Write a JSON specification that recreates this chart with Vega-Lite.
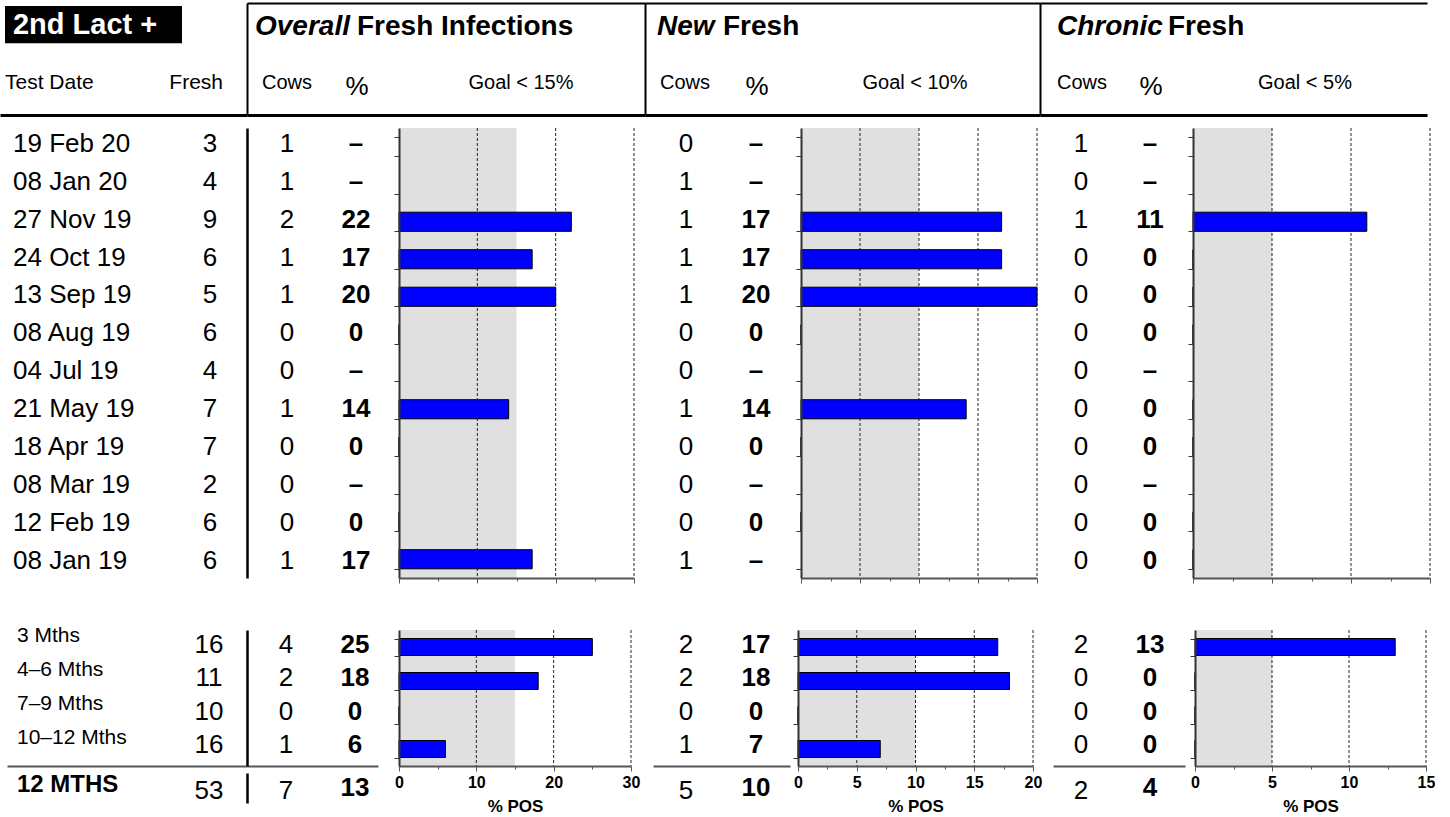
{
"$schema": "https://vega.github.io/schema/vega-lite/v6.json",
"padding": {"left": 0, "top": 3, "right": 0, "bottom": 0},
"background": "white",
"spacing": 0,
"config": {"view": {"stroke": null}, "font": "Liberation Sans", "text": {"font": "Liberation Sans", "color": "black", "fontSize": 26}, "axis": {"labelFont": "Liberation Sans", "titleFont": "Liberation Sans"}},
"datasets": {
"top": [
{"date":"19 Feb 20","fresh":3,"oCows":1,"oPct":null,"nCows":0,"nPct":null,"cCows":1,"cPct":null},
{"date":"08 Jan 20","fresh":4,"oCows":1,"oPct":null,"nCows":1,"nPct":null,"cCows":0,"cPct":null},
{"date":"27 Nov 19","fresh":9,"oCows":2,"oPct":22,"nCows":1,"nPct":17,"cCows":1,"cPct":11},
{"date":"24 Oct 19","fresh":6,"oCows":1,"oPct":17,"nCows":1,"nPct":17,"cCows":0,"cPct":0},
{"date":"13 Sep 19","fresh":5,"oCows":1,"oPct":20,"nCows":1,"nPct":20,"cCows":0,"cPct":0},
{"date":"08 Aug 19","fresh":6,"oCows":0,"oPct":0,"nCows":0,"nPct":0,"cCows":0,"cPct":0},
{"date":"04 Jul 19","fresh":4,"oCows":0,"oPct":null,"nCows":0,"nPct":null,"cCows":0,"cPct":null},
{"date":"21 May 19","fresh":7,"oCows":1,"oPct":14,"nCows":1,"nPct":14,"cCows":0,"cPct":0},
{"date":"18 Apr 19","fresh":7,"oCows":0,"oPct":0,"nCows":0,"nPct":0,"cCows":0,"cPct":0},
{"date":"08 Mar 19","fresh":2,"oCows":0,"oPct":null,"nCows":0,"nPct":null,"cCows":0,"cPct":null},
{"date":"12 Feb 19","fresh":6,"oCows":0,"oPct":0,"nCows":0,"nPct":0,"cCows":0,"cPct":0},
{"date":"08 Jan 19","fresh":6,"oCows":1,"oPct":17,"nCows":1,"nPct":null,"cCows":0,"cPct":0}
],
"bottom": [
{"period":"3 Mths","fresh":16,"oCows":4,"oPct":25,"nCows":2,"nPct":17,"cCows":2,"cPct":13},
{"period":"4–6 Mths","fresh":11,"oCows":2,"oPct":18,"nCows":2,"nPct":18,"cCows":0,"cPct":0},
{"period":"7–9 Mths","fresh":10,"oCows":0,"oPct":0,"nCows":0,"nPct":0,"cCows":0,"cPct":0},
{"period":"10–12 Mths","fresh":16,"oCows":1,"oPct":6,"nCows":1,"nPct":7,"cCows":0,"cPct":0}
],
"total": [
{"period":"12 MTHS","fresh":53,"oCows":7,"oPct":13,"nCows":5,"nPct":10,"cCows":2,"cPct":4}
]
},
"vconcat": [
{"hconcat": [
 {"width": 247, "height": 112,
  "resolve": {"scale": {"x": "independent", "y": "independent"}, "axis": {"x": "independent", "y": "independent"}},
  "layer": [
   {"data": {"values": [{"lab": "2nd Lact +"}]}, "mark": {"type": "rect", "color": "black"},
    "encoding": {"x": {"field": "lab", "type": "nominal", "scale": {"type": "band", "paddingInner": 0, "paddingOuter": 0.1977, "align": 0.0714}, "axis": null},
                 "y": {"field": "lab", "type": "nominal", "scale": {"type": "band", "paddingInner": 0, "paddingOuter": 1.0135, "align": 0.04}, "axis": null}}},
   {"data": {"values": [{"lab": "2nd Lact +"}]}, "mark": {"type": "text", "color": "white", "fontWeight": "bold", "fontSize": 29, "align": "left", "baseline": "middle"},
    "encoding": {"x": {"field": "lab", "type": "nominal", "bandPosition": 0.045, "scale": {"type": "band", "paddingInner": 0, "paddingOuter": 0.1977, "align": 0.0714}, "axis": null},
                 "y": {"field": "lab", "type": "nominal", "scale": {"type": "band", "paddingInner": 0, "paddingOuter": 1.0135, "align": 0.04}, "axis": null},
                 "text": {"field": "lab"}}},
   {"data": {"values": [{"t": "Test Date"}]}, "mark": {"type": "text", "fontSize": 21, "align": "left", "baseline": "alphabetic"},
    "encoding": {"x": {"field": "t", "type": "nominal", "scale": {"type": "point", "align": 0.0202}, "axis": {"orient": "bottom", "domain": true, "domainColor": "black", "domainWidth": 3, "labels": false, "ticks": false, "title": null, "grid": false}},
                 "y": {"datum": "sub", "type": "nominal", "scale": {"type": "point", "domain": ["title", "sub"], "padding": 0.537, "align": 0.552}, "axis": null},
                 "text": {"field": "t"}}},
   {"data": {"values": [{"t": "Fresh"}]}, "mark": {"type": "text", "fontSize": 21, "align": "right", "baseline": "alphabetic"},
    "encoding": {"x": {"field": "t", "type": "nominal", "scale": {"type": "point", "align": 0.903}, "axis": null},
                 "y": {"datum": "sub", "type": "nominal", "scale": {"type": "point", "domain": ["title", "sub"], "padding": 0.537, "align": 0.552}, "axis": null},
                 "text": {"field": "t"}}}
  ]},
 {"width": 398, "height": 112,
  "resolve": {"scale": {"x": "independent"}, "axis": {"x": "independent", "y": "independent"}},
  "layer": [
   {"data": {"values": [{"t": "Overall"}]}, "mark": {"type": "text", "fontSize": 28, "fontWeight": "bold", "fontStyle": "italic", "align": "left", "baseline": "alphabetic"},
    "encoding": {"x": {"field": "t", "type": "nominal", "scale": {"type": "point", "align": 0.0201}, "axis": {"orient": "top", "domain": true, "domainColor": "black", "domainWidth": 2, "labels": false, "ticks": false, "title": null, "grid": false}},
                 "y": {"datum": "title", "type": "nominal", "scale": {"type": "point", "domain": ["title", "sub"], "padding": 0.537, "align": 0.552}, "axis": {"orient": "left", "domain": true, "domainColor": "black", "domainWidth": 2, "labels": false, "ticks": false, "title": null, "grid": false}},
                 "text": {"field": "t"}}},
   {"data": {"values": [{"t": "Fresh Infections"}]}, "mark": {"type": "text", "fontSize": 28, "fontWeight": "bold", "align": "left", "baseline": "alphabetic"},
    "encoding": {"x": {"field": "t", "type": "nominal", "scale": {"type": "point", "align": 0.2764}, "axis": null},
                 "y": {"datum": "title", "type": "nominal", "scale": {"type": "point", "domain": ["title", "sub"], "padding": 0.537, "align": 0.552}, "axis": null},
                 "text": {"field": "t"}}},
   {"data": {"values": [{"t": "Cows"}]}, "mark": {"type": "text", "fontSize": 20, "baseline": "alphabetic"},
    "encoding": {"x": {"field": "t", "type": "nominal", "scale": {"type": "point", "align": 0.1005}, "axis": {"orient": "bottom", "domain": true, "domainColor": "black", "domainWidth": 3, "labels": false, "ticks": false, "title": null, "grid": false}},
                 "y": {"datum": "sub", "type": "nominal", "scale": {"type": "point", "domain": ["title", "sub"], "padding": 0.537, "align": 0.552}, "axis": null},
                 "text": {"field": "t"}}},
   {"data": {"values": [{"t": "%"}]}, "mark": {"type": "text", "fontSize": 26, "baseline": "alphabetic", "dy": 6},
    "encoding": {"x": {"field": "t", "type": "nominal", "scale": {"type": "point", "align": 0.2764}, "axis": null},
                 "y": {"datum": "sub", "type": "nominal", "scale": {"type": "point", "domain": ["title", "sub"], "padding": 0.537, "align": 0.552}, "axis": null},
                 "text": {"field": "t"}}},
   {"data": {"values": [{"t": "Goal < 15%"}]}, "mark": {"type": "text", "fontSize": 20, "baseline": "alphabetic"},
    "encoding": {"x": {"field": "t", "type": "nominal", "scale": {"type": "point", "align": 0.6884}, "axis": null},
                 "y": {"datum": "sub", "type": "nominal", "scale": {"type": "point", "domain": ["title", "sub"], "padding": 0.537, "align": 0.552}, "axis": null},
                 "text": {"field": "t"}}}
  ]},
 {"width": 395, "height": 112,
  "resolve": {"scale": {"x": "independent"}, "axis": {"x": "independent", "y": "independent"}},
  "layer": [
   {"data": {"values": [{"t": "New"}]}, "mark": {"type": "text", "fontSize": 28, "fontWeight": "bold", "fontStyle": "italic", "align": "left", "baseline": "alphabetic"},
    "encoding": {"x": {"field": "t", "type": "nominal", "scale": {"type": "point", "align": 0.0304}, "axis": {"orient": "top", "domain": true, "domainColor": "black", "domainWidth": 2, "labels": false, "ticks": false, "title": null, "grid": false}},
                 "y": {"datum": "title", "type": "nominal", "scale": {"type": "point", "domain": ["title", "sub"], "padding": 0.537, "align": 0.552}, "axis": {"orient": "left", "domain": true, "domainColor": "black", "domainWidth": 2, "labels": false, "ticks": false, "title": null, "grid": false}},
                 "text": {"field": "t"}}},
   {"data": {"values": [{"t": "Fresh"}]}, "mark": {"type": "text", "fontSize": 28, "fontWeight": "bold", "align": "left", "baseline": "alphabetic"},
    "encoding": {"x": {"field": "t", "type": "nominal", "scale": {"type": "point", "align": 0.1975}, "axis": null},
                 "y": {"datum": "title", "type": "nominal", "scale": {"type": "point", "domain": ["title", "sub"], "padding": 0.537, "align": 0.552}, "axis": null},
                 "text": {"field": "t"}}},
   {"data": {"values": [{"t": "Cows"}]}, "mark": {"type": "text", "fontSize": 20, "baseline": "alphabetic"},
    "encoding": {"x": {"field": "t", "type": "nominal", "scale": {"type": "point", "align": 0.1013}, "axis": {"orient": "bottom", "domain": true, "domainColor": "black", "domainWidth": 3, "labels": false, "ticks": false, "title": null, "grid": false}},
                 "y": {"datum": "sub", "type": "nominal", "scale": {"type": "point", "domain": ["title", "sub"], "padding": 0.537, "align": 0.552}, "axis": null},
                 "text": {"field": "t"}}},
   {"data": {"values": [{"t": "%"}]}, "mark": {"type": "text", "fontSize": 26, "baseline": "alphabetic", "dy": 6},
    "encoding": {"x": {"field": "t", "type": "nominal", "scale": {"type": "point", "align": 0.2835}, "axis": null},
                 "y": {"datum": "sub", "type": "nominal", "scale": {"type": "point", "domain": ["title", "sub"], "padding": 0.537, "align": 0.552}, "axis": null},
                 "text": {"field": "t"}}},
   {"data": {"values": [{"t": "Goal < 10%"}]}, "mark": {"type": "text", "fontSize": 20, "baseline": "alphabetic"},
    "encoding": {"x": {"field": "t", "type": "nominal", "scale": {"type": "point", "align": 0.6835}, "axis": null},
                 "y": {"datum": "sub", "type": "nominal", "scale": {"type": "point", "domain": ["title", "sub"], "padding": 0.537, "align": 0.552}, "axis": null},
                 "text": {"field": "t"}}}
  ]},
 {"width": 387, "height": 112,
  "resolve": {"scale": {"x": "independent"}, "axis": {"x": "independent", "y": "independent"}},
  "layer": [
   {"data": {"values": [{"t": "Chronic"}]}, "mark": {"type": "text", "fontSize": 28, "fontWeight": "bold", "fontStyle": "italic", "align": "left", "baseline": "alphabetic"},
    "encoding": {"x": {"field": "t", "type": "nominal", "scale": {"type": "point", "align": 0.0439}, "axis": {"orient": "top", "domain": true, "domainColor": "black", "domainWidth": 2, "labels": false, "ticks": false, "title": null, "grid": false}},
                 "y": {"datum": "title", "type": "nominal", "scale": {"type": "point", "domain": ["title", "sub"], "padding": 0.537, "align": 0.552}, "axis": {"orient": "left", "domain": true, "domainColor": "black", "domainWidth": 2, "labels": false, "ticks": false, "title": null, "grid": false}},
                 "text": {"field": "t"}}},
   {"data": {"values": [{"t": "Fresh"}]}, "mark": {"type": "text", "fontSize": 28, "fontWeight": "bold", "align": "left", "baseline": "alphabetic"},
    "encoding": {"x": {"field": "t", "type": "nominal", "scale": {"type": "point", "align": 0.3307}, "axis": null},
                 "y": {"datum": "title", "type": "nominal", "scale": {"type": "point", "domain": ["title", "sub"], "padding": 0.537, "align": 0.552}, "axis": null},
                 "text": {"field": "t"}}},
   {"data": {"values": [{"t": "Cows"}]}, "mark": {"type": "text", "fontSize": 20, "baseline": "alphabetic"},
    "encoding": {"x": {"field": "t", "type": "nominal", "scale": {"type": "point", "align": 0.1085}, "axis": {"orient": "bottom", "domain": true, "domainColor": "black", "domainWidth": 3, "labels": false, "ticks": false, "title": null, "grid": false}},
                 "y": {"datum": "sub", "type": "nominal", "scale": {"type": "point", "domain": ["title", "sub"], "padding": 0.537, "align": 0.552}, "axis": null},
                 "text": {"field": "t"}}},
   {"data": {"values": [{"t": "%"}]}, "mark": {"type": "text", "fontSize": 26, "baseline": "alphabetic", "dy": 6},
    "encoding": {"x": {"field": "t", "type": "nominal", "scale": {"type": "point", "align": 0.2868}, "axis": null},
                 "y": {"datum": "sub", "type": "nominal", "scale": {"type": "point", "domain": ["title", "sub"], "padding": 0.537, "align": 0.552}, "axis": null},
                 "text": {"field": "t"}}},
   {"data": {"values": [{"t": "Goal < 5%"}]}, "mark": {"type": "text", "fontSize": 20, "baseline": "alphabetic"},
    "encoding": {"x": {"field": "t", "type": "nominal", "scale": {"type": "point", "align": 0.6848}, "axis": null},
                 "y": {"datum": "sub", "type": "nominal", "scale": {"type": "point", "domain": ["title", "sub"], "padding": 0.537, "align": 0.552}, "axis": null},
                 "text": {"field": "t"}}}
  ]}
], "spacing": 0, "bounds": "flush"},

{"width": 1, "height": 12, "data": {"values": []}, "mark": "point", "encoding": {}},

{"hconcat": [
 {"width": 247, "height": 450, "data": {"name": "top"},
  "layer": [
   {"mark": {"type": "text", "align": "left", "fontSize": 26},
    "encoding": {"x": {"datum": "label", "type": "nominal", "scale": {"type": "point", "domain": ["label", "fresh"], "padding": 0.1269, "align": 0.26}, "axis": null},
                 "y": {"field": "date", "type": "nominal", "sort": null, "scale": {"type": "point", "padding": 0.437, "align": 0.48}, "axis": null}, "text": {"field": "date"}}},
   {"mark": {"type": "text", "fontSize": 26},
    "encoding": {"x": {"datum": "fresh", "type": "nominal", "scale": {"type": "point", "domain": ["label", "fresh"], "padding": 0.1269, "align": 0.26}, "axis": null},
                 "y": {"field": "date", "type": "nominal", "sort": null, "scale": {"type": "point", "padding": 0.437, "align": 0.48}, "axis": null}, "text": {"field": "fresh", "type": "quantitative"}}}
  ]},
 {"width": 152, "height": 450, "data": {"name": "top"},
  "layer": [
   {"mark": {"type": "text", "fontSize": 26},
    "encoding": {"x": {"datum": "cows", "type": "nominal", "scale": {"type": "point", "domain": ["cows", "pct"], "padding": 0.6014, "align": 0.482}, "axis": null},
                 "y": {"field": "date", "type": "nominal", "sort": null, "scale": {"type": "point", "padding": 0.437, "align": 0.48}, "axis": {"orient": "left", "domain": true, "domainColor": "black", "domainWidth": 2.5, "labels": false, "ticks": false, "title": null, "grid": false}},
                 "text": {"field": "oCows", "type": "quantitative"}}},
   {"mark": {"type": "text", "fontSize": 26, "fontWeight": "bold"},
    "encoding": {"x": {"datum": "pct", "type": "nominal", "scale": {"type": "point", "domain": ["cows", "pct"], "padding": 0.6014, "align": 0.482}, "axis": null},
                 "y": {"field": "date", "type": "nominal", "sort": null, "scale": {"type": "point", "padding": 0.437, "align": 0.48}, "axis": {"orient": "left", "domain": true, "domainColor": "black", "domainWidth": 2.5, "labels": false, "ticks": false, "title": null, "grid": false}},
                 "text": {"field": "oPct", "type": "quantitative", "condition": {"test": "!isValid(datum.oPct)", "value": "–"}}}}
  ]},
 {"width": 235, "height": 450,
  "resolve": {"axis": {"x": "independent"}},
  "layer": [
   {"data": {"values": [{"lo": 0, "goal": 15}]}, "mark": {"type": "rect", "color": "#e0e0e0"},
    "encoding": {"x": {"field": "lo", "type": "quantitative", "scale": {"domain": [0, 30], "nice": false}, "axis": null}, "x2": {"field": "goal"}}},
   {"data": {"values": [{"g": 10}, {"g": 20}, {"g": 30}]}, "mark": {"type": "rule", "color": "#222", "strokeDash": [3, 2], "strokeWidth": 1},
    "encoding": {"x": {"field": "g", "type": "quantitative", "scale": {"domain": [0, 30], "nice": false}, "axis": {"orient": "bottom", "values": [5, 15, 25], "labels": false, "domain": false, "ticks": true, "tickSize": 3, "tickColor": "#555", "title": null, "grid": false}}}},
   {"data": {"name": "top"}, "mark": {"type": "bar", "color": "#0000ff", "stroke": "black", "strokeWidth": 1},
    "encoding": {"x": {"field": "oPct", "type": "quantitative", "scale": {"domain": [0, 30], "nice": false}, "axis": {"orient": "bottom", "values": [0, 10, 20, 30], "labels": false, "domain": true, "domainColor": "#555", "domainWidth": 2, "ticks": true, "tickSize": 5, "tickColor": "#555", "title": null, "grid": false, "zindex": 1}},
                 "y": {"field": "date", "type": "nominal", "sort": null, "scale": {"domain": ["19 Feb 20","08 Jan 20","27 Nov 19","24 Oct 19","13 Sep 19","08 Aug 19","04 Jul 19","21 May 19","18 Apr 19","08 Mar 19","12 Feb 19","08 Jan 19"], "paddingInner": 0.49, "paddingOuter": 0.245}, "axis": {"title": null, "labels": false, "domain": true, "domainColor": "#333", "domainWidth": 2, "ticks": true, "tickColor": "#333", "tickSize": 5, "tickBand": "extent", "grid": false, "zindex": 1}}}}
  ]},
 {"width": 167, "height": 450, "data": {"name": "top"},
  "layer": [
   {"mark": {"type": "text", "fontSize": 26},
    "encoding": {"x": {"datum": "cows", "type": "nominal", "scale": {"type": "point", "domain": ["cows", "pct"], "padding": 0.6929, "align": 0.536}, "axis": null},
                 "y": {"field": "date", "type": "nominal", "sort": null, "scale": {"type": "point", "padding": 0.437, "align": 0.48}, "axis": null}, "text": {"field": "nCows", "type": "quantitative"}}},
   {"mark": {"type": "text", "fontSize": 26, "fontWeight": "bold"},
    "encoding": {"x": {"datum": "pct", "type": "nominal", "scale": {"type": "point", "domain": ["cows", "pct"], "padding": 0.6929, "align": 0.536}, "axis": null},
                 "y": {"field": "date", "type": "nominal", "sort": null, "scale": {"type": "point", "padding": 0.437, "align": 0.48}, "axis": null},
                 "text": {"field": "nPct", "type": "quantitative", "condition": {"test": "!isValid(datum.nPct)", "value": "–"}}}}
  ]},
 {"width": 236, "height": 450,
  "resolve": {"axis": {"x": "independent"}},
  "layer": [
   {"data": {"values": [{"lo": 0, "goal": 10}]}, "mark": {"type": "rect", "color": "#e0e0e0"},
    "encoding": {"x": {"field": "lo", "type": "quantitative", "scale": {"domain": [0, 20], "nice": false}, "axis": null}, "x2": {"field": "goal"}}},
   {"data": {"values": [{"g": 5}, {"g": 10}, {"g": 15}, {"g": 20}]}, "mark": {"type": "rule", "color": "#222", "strokeDash": [3, 2], "strokeWidth": 1},
    "encoding": {"x": {"field": "g", "type": "quantitative", "scale": {"domain": [0, 20], "nice": false}, "axis": {"orient": "bottom", "values": [2.5, 7.5, 12.5, 17.5], "labels": false, "domain": false, "ticks": true, "tickSize": 3, "tickColor": "#555", "title": null, "grid": false}}}},
   {"data": {"name": "top"}, "mark": {"type": "bar", "color": "#0000ff", "stroke": "black", "strokeWidth": 1},
    "encoding": {"x": {"field": "nPct", "type": "quantitative", "scale": {"domain": [0, 20], "nice": false}, "axis": {"orient": "bottom", "values": [0, 5, 10, 15, 20], "labels": false, "domain": true, "domainColor": "#555", "domainWidth": 2, "ticks": true, "tickSize": 5, "tickColor": "#555", "title": null, "grid": false, "zindex": 1}},
                 "y": {"field": "date", "type": "nominal", "sort": null, "scale": {"domain": ["19 Feb 20","08 Jan 20","27 Nov 19","24 Oct 19","13 Sep 19","08 Aug 19","04 Jul 19","21 May 19","18 Apr 19","08 Mar 19","12 Feb 19","08 Jan 19"], "paddingInner": 0.49, "paddingOuter": 0.245}, "axis": {"title": null, "labels": false, "domain": true, "domainColor": "#333", "domainWidth": 2, "ticks": true, "tickColor": "#333", "tickSize": 5, "tickBand": "extent", "grid": false, "zindex": 1}}}}
  ]},
 {"width": 156, "height": 450, "data": {"name": "top"},
  "layer": [
   {"mark": {"type": "text", "fontSize": 26},
    "encoding": {"x": {"datum": "cows", "type": "nominal", "scale": {"type": "point", "domain": ["cows", "pct"], "padding": 0.6304, "align": 0.506}, "axis": null},
                 "y": {"field": "date", "type": "nominal", "sort": null, "scale": {"type": "point", "padding": 0.437, "align": 0.48}, "axis": null}, "text": {"field": "cCows", "type": "quantitative"}}},
   {"mark": {"type": "text", "fontSize": 26, "fontWeight": "bold"},
    "encoding": {"x": {"datum": "pct", "type": "nominal", "scale": {"type": "point", "domain": ["cows", "pct"], "padding": 0.6304, "align": 0.506}, "axis": null},
                 "y": {"field": "date", "type": "nominal", "sort": null, "scale": {"type": "point", "padding": 0.437, "align": 0.48}, "axis": null},
                 "text": {"field": "cPct", "type": "quantitative", "condition": {"test": "!isValid(datum.cPct)", "value": "–"}}}}
  ]},
 {"width": 237, "height": 450,
  "resolve": {"axis": {"x": "independent"}},
  "layer": [
   {"data": {"values": [{"lo": 0, "goal": 5}]}, "mark": {"type": "rect", "color": "#e0e0e0"},
    "encoding": {"x": {"field": "lo", "type": "quantitative", "scale": {"domain": [0, 15], "nice": false}, "axis": null}, "x2": {"field": "goal"}}},
   {"data": {"values": [{"g": 5}, {"g": 10}, {"g": 15}]}, "mark": {"type": "rule", "color": "#222", "strokeDash": [3, 2], "strokeWidth": 1},
    "encoding": {"x": {"field": "g", "type": "quantitative", "scale": {"domain": [0, 15], "nice": false}, "axis": {"orient": "bottom", "values": [2.5, 7.5, 12.5], "labels": false, "domain": false, "ticks": true, "tickSize": 3, "tickColor": "#555", "title": null, "grid": false}}}},
   {"data": {"name": "top"}, "mark": {"type": "bar", "color": "#0000ff", "stroke": "black", "strokeWidth": 1},
    "encoding": {"x": {"field": "cPct", "type": "quantitative", "scale": {"domain": [0, 15], "nice": false}, "axis": {"orient": "bottom", "values": [0, 5, 10, 15], "labels": false, "domain": true, "domainColor": "#555", "domainWidth": 2, "ticks": true, "tickSize": 5, "tickColor": "#555", "title": null, "grid": false, "zindex": 1}},
                 "y": {"field": "date", "type": "nominal", "sort": null, "scale": {"domain": ["19 Feb 20","08 Jan 20","27 Nov 19","24 Oct 19","13 Sep 19","08 Aug 19","04 Jul 19","21 May 19","18 Apr 19","08 Mar 19","12 Feb 19","08 Jan 19"], "paddingInner": 0.49, "paddingOuter": 0.245}, "axis": {"title": null, "labels": false, "domain": true, "domainColor": "#333", "domainWidth": 2, "ticks": true, "tickColor": "#333", "tickSize": 5, "tickBand": "extent", "grid": false, "zindex": 1}}}}
  ]}
], "spacing": 0, "bounds": "flush"},

{"width": 1, "height": 41, "data": {"values": []}, "mark": "point", "encoding": {}},

{"hconcat": [
 {"width": 7, "height": 136, "data": {"values": []}, "mark": "point", "encoding": {}},
 {"width": 240, "height": 136, "data": {"name": "bottom"},
  "resolve": {"scale": {"y": "independent"}},
  "layer": [
   {"mark": {"type": "text", "align": "left", "fontSize": 21, "dy": -11},
    "encoding": {"x": {"datum": "label", "type": "nominal", "scale": {"type": "point", "domain": ["label", "fresh"], "padding": 0.125, "align": 0.208}, "axis": {"orient": "bottom", "domain": true, "domainColor": "#555", "domainWidth": 2, "labels": false, "ticks": false, "title": null, "grid": false}},
                 "y": {"field": "period", "type": "nominal", "sort": null, "axis": null}, "text": {"field": "period"}}},
   {"mark": {"type": "text", "fontSize": 26},
    "encoding": {"x": {"datum": "fresh", "type": "nominal", "scale": {"type": "point", "domain": ["label", "fresh"], "padding": 0.125, "align": 0.208}, "axis": {"orient": "bottom", "domain": true, "domainColor": "#555", "domainWidth": 2, "labels": false, "ticks": false, "title": null, "grid": false}},
                 "y": {"field": "period", "type": "nominal", "sort": null, "scale": {"type": "point", "padding": 0.542, "align": 0.415}, "axis": null}, "text": {"field": "fresh", "type": "quantitative"}}}
  ]},
 {"width": 131, "height": 136, "data": {"name": "bottom"},
  "layer": [
   {"mark": {"type": "text", "fontSize": 26},
    "encoding": {"x": {"datum": "cows", "type": "nominal", "scale": {"type": "point", "domain": ["cows", "pct"], "padding": 0.4493, "align": 0.629}, "axis": {"orient": "bottom", "domain": true, "domainColor": "#555", "domainWidth": 2, "labels": false, "ticks": false, "title": null, "grid": false}},
                 "y": {"field": "period", "type": "nominal", "sort": null, "scale": {"type": "point", "padding": 0.542, "align": 0.415}, "axis": {"orient": "left", "domain": true, "domainColor": "black", "domainWidth": 2.5, "labels": false, "ticks": false, "title": null, "grid": false}},
                 "text": {"field": "oCows", "type": "quantitative"}}},
   {"mark": {"type": "text", "fontSize": 26, "fontWeight": "bold"},
    "encoding": {"x": {"datum": "pct", "type": "nominal", "scale": {"type": "point", "domain": ["cows", "pct"], "padding": 0.4493, "align": 0.629}, "axis": {"orient": "bottom", "domain": true, "domainColor": "#555", "domainWidth": 2, "labels": false, "ticks": false, "title": null, "grid": false}},
                 "y": {"field": "period", "type": "nominal", "sort": null, "scale": {"type": "point", "padding": 0.542, "align": 0.415}, "axis": {"orient": "left", "domain": true, "domainColor": "black", "domainWidth": 2.5, "labels": false, "ticks": false, "title": null, "grid": false}},
                 "text": {"field": "oPct", "type": "quantitative"}}}
  ]},
 {"width": 21, "height": 136, "data": {"values": []}, "mark": "point", "encoding": {}},
 {"width": 232, "height": 136,
  "resolve": {"axis": {"x": "independent"}},
  "layer": [
   {"data": {"values": [{"lo": 0, "goal": 15}]}, "mark": {"type": "rect", "color": "#e0e0e0"},
    "encoding": {"x": {"field": "lo", "type": "quantitative", "scale": {"domain": [0, 30], "nice": false}, "axis": null}, "x2": {"field": "goal"}}},
   {"data": {"values": [{"g": 10}, {"g": 20}, {"g": 30}]}, "mark": {"type": "rule", "color": "#222", "strokeDash": [3, 2], "strokeWidth": 1},
    "encoding": {"x": {"field": "g", "type": "quantitative", "scale": {"domain": [0, 30], "nice": false}, "axis": {"orient": "bottom", "values": [5, 15, 25], "labels": false, "domain": false, "ticks": true, "tickSize": 3, "tickColor": "#555", "title": null, "grid": false}}}},
   {"data": {"name": "bottom"}, "mark": {"type": "bar", "color": "#0000ff", "stroke": "black", "strokeWidth": 1},
    "encoding": {"x": {"field": "oPct", "type": "quantitative", "scale": {"domain": [0, 30], "nice": false}, "axis": {"orient": "bottom", "values": [0, 10, 20, 30], "labels": false, "domain": true, "domainColor": "#555", "domainWidth": 2, "ticks": true, "tickSize": 5, "tickColor": "#555", "title": null, "grid": false, "zindex": 1}},
                 "y": {"field": "period", "type": "nominal", "sort": null, "scale": {"domain": ["3 Mths", "4–6 Mths", "7–9 Mths", "10–12 Mths"], "paddingInner": 0.5, "paddingOuter": 0.25}, "axis": {"title": null, "labels": false, "domain": true, "domainColor": "#333", "domainWidth": 2, "ticks": true, "tickColor": "#333", "tickSize": 5, "tickBand": "extent", "grid": false, "zindex": 1}}}}
  ]},
 {"width": 22, "height": 136, "data": {"values": []}, "mark": "point", "encoding": {}},
 {"width": 137, "height": 136, "data": {"name": "bottom"},
  "layer": [
   {"mark": {"type": "text", "fontSize": 26},
    "encoding": {"x": {"datum": "cows", "type": "nominal", "scale": {"type": "point", "domain": ["cows", "pct"], "padding": 0.4786, "align": 0.4925}, "axis": {"orient": "bottom", "domain": true, "domainColor": "#555", "domainWidth": 2, "labels": false, "ticks": false, "title": null, "grid": false}},
                 "y": {"field": "period", "type": "nominal", "sort": null, "scale": {"type": "point", "padding": 0.542, "align": 0.415}, "axis": null}, "text": {"field": "nCows", "type": "quantitative"}}},
   {"mark": {"type": "text", "fontSize": 26, "fontWeight": "bold"},
    "encoding": {"x": {"datum": "pct", "type": "nominal", "scale": {"type": "point", "domain": ["cows", "pct"], "padding": 0.4786, "align": 0.4925}, "axis": {"orient": "bottom", "domain": true, "domainColor": "#555", "domainWidth": 2, "labels": false, "ticks": false, "title": null, "grid": false}},
                 "y": {"field": "period", "type": "nominal", "sort": null, "scale": {"type": "point", "padding": 0.542, "align": 0.415}, "axis": null}, "text": {"field": "nPct", "type": "quantitative"}}}
  ]},
 {"width": 8, "height": 136, "data": {"values": []}, "mark": "point", "encoding": {}},
 {"width": 235, "height": 136,
  "resolve": {"axis": {"x": "independent"}},
  "layer": [
   {"data": {"values": [{"lo": 0, "goal": 10}]}, "mark": {"type": "rect", "color": "#e0e0e0"},
    "encoding": {"x": {"field": "lo", "type": "quantitative", "scale": {"domain": [0, 20], "nice": false}, "axis": null}, "x2": {"field": "goal"}}},
   {"data": {"values": [{"g": 5}, {"g": 10}, {"g": 15}, {"g": 20}]}, "mark": {"type": "rule", "color": "#222", "strokeDash": [3, 2], "strokeWidth": 1},
    "encoding": {"x": {"field": "g", "type": "quantitative", "scale": {"domain": [0, 20], "nice": false}, "axis": {"orient": "bottom", "values": [2.5, 7.5, 12.5, 17.5], "labels": false, "domain": false, "ticks": true, "tickSize": 3, "tickColor": "#555", "title": null, "grid": false}}}},
   {"data": {"name": "bottom"}, "mark": {"type": "bar", "color": "#0000ff", "stroke": "black", "strokeWidth": 1},
    "encoding": {"x": {"field": "nPct", "type": "quantitative", "scale": {"domain": [0, 20], "nice": false}, "axis": {"orient": "bottom", "values": [0, 5, 10, 15, 20], "labels": false, "domain": true, "domainColor": "#555", "domainWidth": 2, "ticks": true, "tickSize": 5, "tickColor": "#555", "title": null, "grid": false, "zindex": 1}},
                 "y": {"field": "period", "type": "nominal", "sort": null, "scale": {"domain": ["3 Mths", "4–6 Mths", "7–9 Mths", "10–12 Mths"], "paddingInner": 0.5, "paddingOuter": 0.25}, "axis": {"title": null, "labels": false, "domain": true, "domainColor": "#333", "domainWidth": 2, "ticks": true, "tickColor": "#333", "tickSize": 5, "tickBand": "extent", "grid": false, "zindex": 1}}}}
  ]},
 {"width": 20, "height": 136, "data": {"values": []}, "mark": "point", "encoding": {}},
 {"width": 132, "height": 136, "data": {"name": "bottom"},
  "layer": [
   {"mark": {"type": "text", "fontSize": 26},
    "encoding": {"x": {"datum": "cows", "type": "nominal", "scale": {"type": "point", "domain": ["cows", "pct"], "padding": 0.4565, "align": 0.444}, "axis": {"orient": "bottom", "domain": true, "domainColor": "#555", "domainWidth": 2, "labels": false, "ticks": false, "title": null, "grid": false}},
                 "y": {"field": "period", "type": "nominal", "sort": null, "scale": {"type": "point", "padding": 0.542, "align": 0.415}, "axis": null}, "text": {"field": "cCows", "type": "quantitative"}}},
   {"mark": {"type": "text", "fontSize": 26, "fontWeight": "bold"},
    "encoding": {"x": {"datum": "pct", "type": "nominal", "scale": {"type": "point", "domain": ["cows", "pct"], "padding": 0.4565, "align": 0.444}, "axis": {"orient": "bottom", "domain": true, "domainColor": "#555", "domainWidth": 2, "labels": false, "ticks": false, "title": null, "grid": false}},
                 "y": {"field": "period", "type": "nominal", "sort": null, "scale": {"type": "point", "padding": 0.542, "align": 0.415}, "axis": null}, "text": {"field": "cPct", "type": "quantitative"}}}
  ]},
 {"width": 10, "height": 136, "data": {"values": []}, "mark": "point", "encoding": {}},
 {"width": 231, "height": 136,
  "resolve": {"axis": {"x": "independent"}},
  "layer": [
   {"data": {"values": [{"lo": 0, "goal": 5}]}, "mark": {"type": "rect", "color": "#e0e0e0"},
    "encoding": {"x": {"field": "lo", "type": "quantitative", "scale": {"domain": [0, 15], "nice": false}, "axis": null}, "x2": {"field": "goal"}}},
   {"data": {"values": [{"g": 5}, {"g": 10}, {"g": 15}]}, "mark": {"type": "rule", "color": "#222", "strokeDash": [3, 2], "strokeWidth": 1},
    "encoding": {"x": {"field": "g", "type": "quantitative", "scale": {"domain": [0, 15], "nice": false}, "axis": {"orient": "bottom", "values": [2.5, 7.5, 12.5], "labels": false, "domain": false, "ticks": true, "tickSize": 3, "tickColor": "#555", "title": null, "grid": false}}}},
   {"data": {"name": "bottom"}, "mark": {"type": "bar", "color": "#0000ff", "stroke": "black", "strokeWidth": 1},
    "encoding": {"x": {"field": "cPct", "type": "quantitative", "scale": {"domain": [0, 15], "nice": false}, "axis": {"orient": "bottom", "values": [0, 5, 10, 15], "labels": false, "domain": true, "domainColor": "#555", "domainWidth": 2, "ticks": true, "tickSize": 5, "tickColor": "#555", "title": null, "grid": false, "zindex": 1}},
                 "y": {"field": "period", "type": "nominal", "sort": null, "scale": {"domain": ["3 Mths", "4–6 Mths", "7–9 Mths", "10–12 Mths"], "paddingInner": 0.5, "paddingOuter": 0.25}, "axis": {"title": null, "labels": false, "domain": true, "domainColor": "#333", "domainWidth": 2, "ticks": true, "tickColor": "#333", "tickSize": 5, "tickBand": "extent", "grid": false, "zindex": 1}}}}
  ]}
], "spacing": 0, "bounds": "flush"},

{"width": 1, "height": 1, "data": {"values": []}, "mark": "point", "encoding": {}},

{"hconcat": [
 {"width": 7, "height": 30, "data": {"values": []}, "mark": "point", "encoding": {}},
 {"width": 240, "height": 30, "data": {"name": "total"},
  "layer": [
   {"mark": {"type": "text", "align": "left", "fontSize": 24, "fontWeight": "bold", "dy": -3},
    "encoding": {"x": {"datum": "label", "type": "nominal", "scale": {"type": "point", "domain": ["label", "fresh"], "padding": 0.125, "align": 0.208}, "axis": null}, "text": {"field": "period"}}},
   {"mark": {"type": "text", "fontSize": 26, "dy": 3},
    "encoding": {"x": {"datum": "fresh", "type": "nominal", "scale": {"type": "point", "domain": ["label", "fresh"], "padding": 0.125, "align": 0.208}, "axis": null}, "text": {"field": "fresh", "type": "quantitative"}}}
  ]},
 {"width": 131, "height": 30, "data": {"name": "total"},
  "layer": [
   {"mark": {"type": "text", "fontSize": 26, "dy": 3},
    "encoding": {"x": {"datum": "cows", "type": "nominal", "scale": {"type": "point", "domain": ["cows", "pct"], "padding": 0.4493, "align": 0.629}, "axis": null},
                 "y": {"datum": "total", "type": "nominal", "axis": {"orient": "left", "domain": true, "domainColor": "black", "domainWidth": 2.5, "labels": false, "ticks": false, "title": null, "grid": false}},
                 "text": {"field": "oCows", "type": "quantitative"}}},
   {"mark": {"type": "text", "fontSize": 26, "fontWeight": "bold"},
    "encoding": {"x": {"datum": "pct", "type": "nominal", "scale": {"type": "point", "domain": ["cows", "pct"], "padding": 0.4493, "align": 0.629}, "axis": null},
                 "y": {"datum": "total", "type": "nominal", "axis": {"orient": "left", "domain": true, "domainColor": "black", "domainWidth": 2.5, "labels": false, "ticks": false, "title": null, "grid": false}},
                 "text": {"field": "oPct", "type": "quantitative"}}}
  ]},
 {"width": 21, "height": 30, "data": {"values": []}, "mark": "point", "encoding": {}},
 {"width": 232, "height": 2, "data": {"values": []}, "mark": "point",
  "encoding": {"x": {"field": "v", "type": "quantitative", "scale": {"domain": [0, 30], "nice": false}, "axis": {"orient": "bottom", "values": [0, 10, 20, 30], "domain": false, "ticks": false, "labels": true, "labelFlush": false, "labelFontSize": 16, "labelFontWeight": "bold", "labelColor": "black", "labelPadding": -1, "title": "% POS", "titleFontSize": 17, "titleFontWeight": "bold", "titleColor": "black", "titlePadding": 8, "grid": false}}}},
 {"width": 22, "height": 30, "data": {"values": []}, "mark": "point", "encoding": {}},
 {"width": 137, "height": 30, "data": {"name": "total"},
  "layer": [
   {"mark": {"type": "text", "fontSize": 26, "dy": 3},
    "encoding": {"x": {"datum": "cows", "type": "nominal", "scale": {"type": "point", "domain": ["cows", "pct"], "padding": 0.4786, "align": 0.4925}, "axis": null}, "text": {"field": "nCows", "type": "quantitative"}}},
   {"mark": {"type": "text", "fontSize": 26, "fontWeight": "bold"},
    "encoding": {"x": {"datum": "pct", "type": "nominal", "scale": {"type": "point", "domain": ["cows", "pct"], "padding": 0.4786, "align": 0.4925}, "axis": null}, "text": {"field": "nPct", "type": "quantitative"}}}
  ]},
 {"width": 8, "height": 30, "data": {"values": []}, "mark": "point", "encoding": {}},
 {"width": 235, "height": 2, "data": {"values": []}, "mark": "point",
  "encoding": {"x": {"field": "v", "type": "quantitative", "scale": {"domain": [0, 20], "nice": false}, "axis": {"orient": "bottom", "values": [0, 5, 10, 15, 20], "domain": false, "ticks": false, "labels": true, "labelFlush": false, "labelFontSize": 16, "labelFontWeight": "bold", "labelColor": "black", "labelPadding": -1, "title": "% POS", "titleFontSize": 17, "titleFontWeight": "bold", "titleColor": "black", "titlePadding": 8, "grid": false}}}},
 {"width": 20, "height": 30, "data": {"values": []}, "mark": "point", "encoding": {}},
 {"width": 132, "height": 30, "data": {"name": "total"},
  "layer": [
   {"mark": {"type": "text", "fontSize": 26, "dy": 3},
    "encoding": {"x": {"datum": "cows", "type": "nominal", "scale": {"type": "point", "domain": ["cows", "pct"], "padding": 0.4565, "align": 0.444}, "axis": null}, "text": {"field": "cCows", "type": "quantitative"}}},
   {"mark": {"type": "text", "fontSize": 26, "fontWeight": "bold"},
    "encoding": {"x": {"datum": "pct", "type": "nominal", "scale": {"type": "point", "domain": ["cows", "pct"], "padding": 0.4565, "align": 0.444}, "axis": null}, "text": {"field": "cPct", "type": "quantitative"}}}
  ]},
 {"width": 10, "height": 30, "data": {"values": []}, "mark": "point", "encoding": {}},
 {"width": 231, "height": 2, "data": {"values": []}, "mark": "point",
  "encoding": {"x": {"field": "v", "type": "quantitative", "scale": {"domain": [0, 15], "nice": false}, "axis": {"orient": "bottom", "values": [0, 5, 10, 15], "domain": false, "ticks": false, "labels": true, "labelFlush": false, "labelFontSize": 16, "labelFontWeight": "bold", "labelColor": "black", "labelPadding": -1, "title": "% POS", "titleFontSize": 17, "titleFontWeight": "bold", "titleColor": "black", "titlePadding": 8, "grid": false}}}}
], "spacing": 0, "bounds": "flush"}
]
}
